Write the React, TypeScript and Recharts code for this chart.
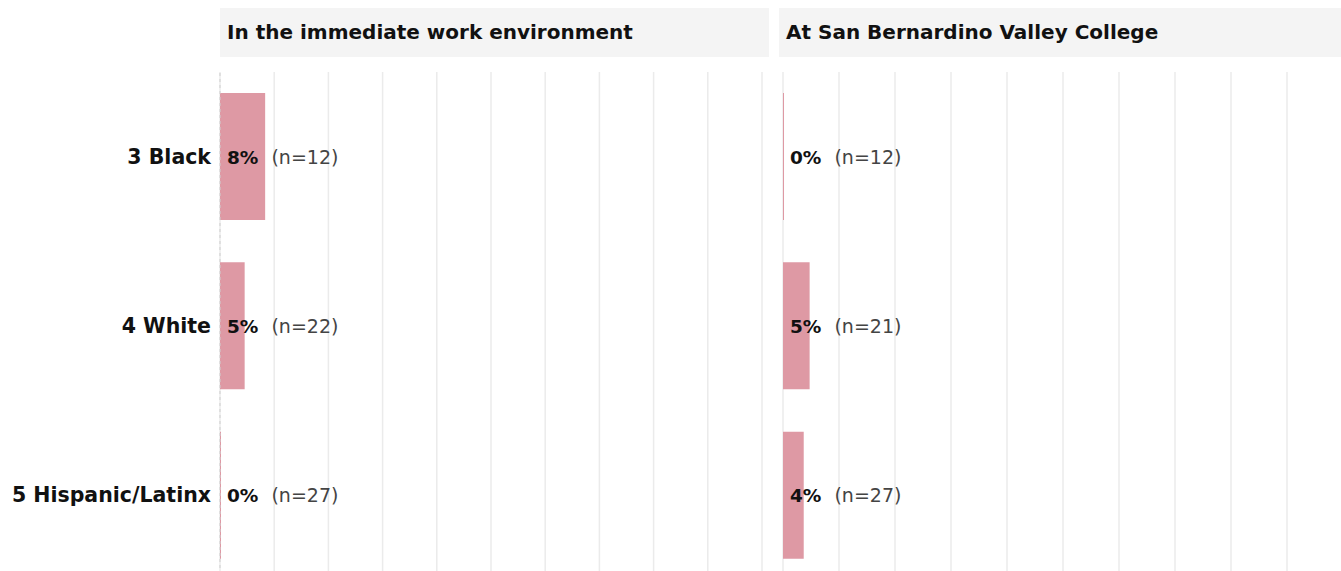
import React from "react";
import { BarChart, Bar, XAxis, YAxis, CartesianGrid, ReferenceLine, LabelList } from "recharts";

const categories = ["3 Black", "4 White", "5 Hispanic/Latinx"];
const panelTitles = ["In the immediate work environment", "At San Bernardino Valley College"];
const workEnvValues = [0.0833, 0.0455, 0];
const workEnvN = [12, 22, 27];
const collegeValues = [0, 0.0476, 0.037];
const collegeN = [12, 21, 27];
const leftGridTicks = [0.1, 0.2, 0.3, 0.4, 0.5, 0.6, 0.7, 0.8, 0.9];
const rightGridTicks = [0, 0.1, 0.2, 0.3, 0.4, 0.5, 0.6, 0.7, 0.8, 0.9, 1.0];

const FONT = "'DejaVu Sans', Verdana, sans-serif";
const BAR_COLOR = "#de99a4";

const buildData = (values: number[], ns: number[]) =>
  categories.map((c, i) => ({ category: c, value: values[i], n: ns[i] }));

const workEnvData = buildData(workEnvValues, workEnvN);
const collegeData = buildData(collegeValues, collegeN);

const makeLabel = (ns: number[]) => (props: any) => {
  const { x, y, height, index, value } = props;
  const pct = Math.round(Number(value) * 100) + "%";
  return (
    <text
      x={Number(x) + 7}
      y={Number(y) + Number(height) / 2}
      dominantBaseline="central"
      fontFamily={FONT}
    >
      <tspan fontWeight="bold" fill="#111" fontSize={18.5}>{pct}</tspan>
      <tspan dx={13} fill="#444" fontSize={19}>{"(n=" + ns[index] + ")"}</tspan>
    </text>
  );
};

const CategoryTick = (props: any) => {
  const { x, y, payload } = props;
  return (
    <text
      x={Number(x) - 9}
      y={Number(y)}
      textAnchor="end"
      dominantBaseline="central"
      fontFamily={FONT}
      fontSize={20.5}
      fontWeight="bold"
      fill="#111"
    >
      {payload.value}
    </text>
  );
};

const headerStyle = (left: number, width: number): React.CSSProperties => ({
  position: "absolute",
  left,
  top: 8,
  width,
  height: 49,
  background: "#f4f4f4",
  fontFamily: FONT,
  fontWeight: "bold",
  fontSize: 20,
  color: "#111",
  lineHeight: "49px",
  paddingLeft: 7,
  boxSizing: "border-box",
  whiteSpace: "nowrap",
  overflow: "hidden",
});

const CHART_H = 580;

export default function App() {
  return (
    <div
      style={{
        position: "absolute",
        left: 0,
        top: 0,
        width: 1341,
        height: 571,
        overflow: "hidden",
        background: "#fff",
      }}
    >
      <div style={headerStyle(220, 549)}>{panelTitles[0]}</div>
      <div style={headerStyle(779, 600)}>{panelTitles[1]}</div>

      <div style={{ position: "absolute", left: 0, top: 0 }}>
        <BarChart
          width={769}
          height={CHART_H}
          data={workEnvData}
          layout="vertical"
          margin={{ top: 72, right: 7, bottom: 0, left: 0 }}
          barCategoryGap={21}
        >
          <CartesianGrid horizontal={false} vertical={true} stroke="#ebebeb" strokeWidth={1.5} />
          <XAxis type="number" domain={[0, 1]} ticks={leftGridTicks} hide />
          <YAxis
            type="category"
            dataKey="category"
            width={220}
            axisLine={false}
            tickLine={false}
            tickSize={0}
            tickMargin={0}
            tick={<CategoryTick />}
          />
          <ReferenceLine x={0} stroke="#cfcfcf" strokeDasharray="3 3" />
          <Bar dataKey="value" fill={BAR_COLOR} isAnimationActive={false} minPointSize={1}>
            <LabelList dataKey="value" content={makeLabel(workEnvN)} />
          </Bar>
        </BarChart>
      </div>

      <div style={{ position: "absolute", left: 773, top: 0 }}>
        <BarChart
          width={580}
          height={CHART_H}
          data={collegeData}
          layout="vertical"
          margin={{ top: 72, right: 10, bottom: 0, left: 10 }}
          barCategoryGap={21}
        >
          <CartesianGrid horizontal={false} vertical={true} stroke="#ebebeb" strokeWidth={1.5} />
          <XAxis type="number" domain={[0, 1]} ticks={rightGridTicks} hide />
          <YAxis type="category" dataKey="category" hide />
          <Bar dataKey="value" fill={BAR_COLOR} isAnimationActive={false} minPointSize={1}>
            <LabelList dataKey="value" content={makeLabel(collegeN)} />
          </Bar>
        </BarChart>
      </div>
    </div>
  );
}
